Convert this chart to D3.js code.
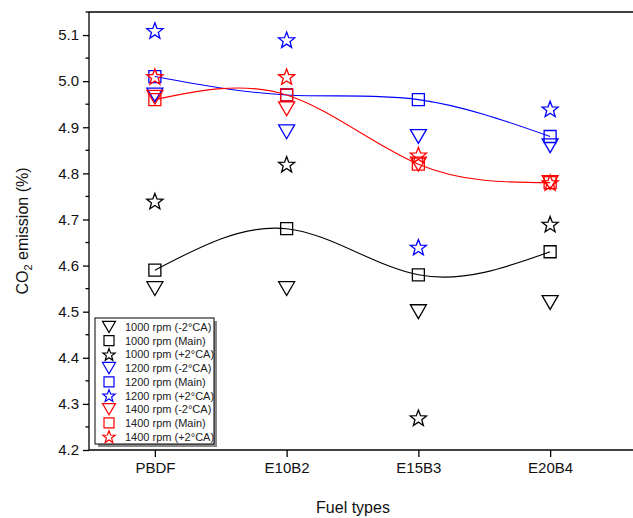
<!DOCTYPE html>
<html>
<head>
<meta charset="utf-8">
<script src="https://cdn.jsdelivr.net/npm/d3@7"></script>
<style>
body { margin: 0; background: #fff; }
text { font-family: Arial, "Liberation Sans", sans-serif; }
</style>
</head>
<body>
<div id="chart"></div>
<script>
var fuels = ['PBDF', 'E10B2', 'E15B3', 'E20B4'];
var yTicks = [4.2, 4.3, 4.4, 4.5, 4.6, 4.7, 4.8, 4.9, 5.0, 5.1];

// one array per series, same order as fuels
var rpm1000_m2 = [4.55, 4.55, 4.50, 4.52];
var rpm1000_main = [4.59, 4.68, 4.58, 4.63];
var rpm1000_p2 = [4.74, 4.82, 4.27, 4.69];
var rpm1200_m2 = [4.97, 4.89, 4.88, 4.86];
var rpm1200_main = [5.01, 4.97, 4.96, 4.88];
var rpm1200_p2 = [5.11, 5.09, 4.64, 4.94];
var rpm1400_m2 = [4.965, 4.94, 4.82, 4.78];
var rpm1400_main = [4.96, 4.97, 4.82, 4.78];
var rpm1400_p2 = [5.01, 5.01, 4.84, 4.78];

var series = [
	{name: '1000 rpm (-2°CA)', values: rpm1000_m2, color: '#000000', shape: 'tri'},
	{name: '1000 rpm (Main)', values: rpm1000_main, color: '#000000', shape: 'sq', curve: true},
	{name: '1000 rpm (+2°CA)', values: rpm1000_p2, color: '#000000', shape: 'star'},
	{name: '1200 rpm (-2°CA)', values: rpm1200_m2, color: '#0000ff', shape: 'tri'},
	{name: '1200 rpm (Main)', values: rpm1200_main, color: '#0000ff', shape: 'sq', curve: true},
	{name: '1200 rpm (+2°CA)', values: rpm1200_p2, color: '#0000ff', shape: 'star'},
	{name: '1400 rpm (-2°CA)', values: rpm1400_m2, color: '#ff0000', shape: 'tri'},
	{name: '1400 rpm (Main)', values: rpm1400_main, color: '#ff0000', shape: 'sq', curve: true},
	{name: '1400 rpm (+2°CA)', values: rpm1400_p2, color: '#ff0000', shape: 'star'}
];

var svgWidth = 633;
var svgHeight = 518;
var plot = {left: 89, top: 12, bottom: 450};

var svg = d3.select('#chart').append('svg')
	.attr('width', svgWidth)
	.attr('height', svgHeight);

var xScale = d3.scaleLinear()
	.domain([-0.5, 3.5])
	.range([plot.left, 616]);
var yScale = d3.scaleLinear()
	.domain([4.2, 5.15])
	.range([plot.bottom, plot.top]);

// marker shapes, r = half width
function shapePath(shape, r) {
	if (shape == 'sq') {
		return 'M' + (-r) + ',' + (-r) + 'H' + r + 'V' + r + 'H' + (-r) + 'Z';
	}
	if (shape == 'tri') {
		var h = r * Math.sqrt(3);
		return 'M' + (-r) + ',' + (-h / 2) + 'H' + r + 'L0,' + (h / 2) + 'Z';
	}
	var pts = [];
	for (var i = 0; i < 10; i++) {
		var rad = i % 2 == 0 ? r : r * 0.42;
		var a = -Math.PI / 2 + i * Math.PI / 5;
		pts.push([rad * Math.cos(a), rad * Math.sin(a) + r * 0.1]);
	}
	return 'M' + pts.join('L') + 'Z';
}
var markerR = {tri: 8, sq: 6, star: 8.5};

// frame lines (right side is cut off by the picture)
svg.append('line')
	.attr('x1', plot.left).attr('x2', svgWidth + 5)
	.attr('y1', plot.top).attr('y2', plot.top)
	.attr('stroke', '#000').attr('stroke-width', 1.5);

// axes
var bottomAxis = d3.axisBottom(xScale)
	.tickValues([0, 1, 2, 3])
	.tickFormat(function(d) { return fuels[d]; })
	.tickSize(7)
	.tickPadding(5);
var xAxis = svg.append('g')
	.attr('transform', 'translate(0,' + plot.bottom + ')')
	.call(bottomAxis);
xAxis.select('.domain')
	.attr('d', 'M' + plot.left + ',0H' + (svgWidth + 5));

var leftAxis = d3.axisLeft(yScale)
	.tickValues(yTicks)
	.tickFormat(d3.format('.1f'))
	.tickSize(6)
	.tickPadding(4);
var yAxis = svg.append('g')
	.attr('transform', 'translate(' + plot.left + ',0)')
	.call(leftAxis);

var minorTicks = yTicks.map(function(d) { return d + 0.05; }).filter(function(d) { return d < 5.15; });
yAxis.selectAll('.minor')
	.data(minorTicks)
	.enter()
	.append('line')
	.attr('class', 'minor')
	.attr('x1', 0).attr('x2', -3.5)
	.attr('y1', function(d) { return yScale(d); })
	.attr('y2', function(d) { return yScale(d); })
	.attr('stroke', '#000');

[xAxis, yAxis].forEach(function(ax) {
	ax.selectAll('path, line').attr('stroke', '#000').attr('stroke-width', 1.3);
	ax.selectAll('text')
		.attr('font-family', 'Arial, "Liberation Sans", sans-serif')
		.attr('font-size', '15px')
		.attr('fill', '#111');
});
yAxis.select('.domain').attr('d', 'M0,' + plot.bottom + 'V' + plot.top);

// axis titles
svg.append('text')
	.attr('x', 353)
	.attr('y', 513)
	.attr('text-anchor', 'middle')
	.attr('font-size', '16px')
	.attr('fill', '#111')
	.text('Fuel types');

var yLabel = svg.append('text')
	.attr('transform', 'translate(28,231) rotate(-90)')
	.attr('text-anchor', 'middle')
	.attr('font-size', '16px')
	.attr('fill', '#111');
yLabel.append('tspan').text('CO');
yLabel.append('tspan').attr('font-size', '11px').attr('dy', '4').text('2');
yLabel.append('tspan').attr('dy', '-4').text(' emission (%)');

// smooth curves through the Main series
var line = d3.line()
	.x(function(d, i) { return xScale(i); })
	.y(function(d) { return yScale(d); })
	.curve(d3.curveNatural);

svg.append('g').selectAll('path')
	.data(series.filter(function(s) { return s.curve; }))
	.enter()
	.append('path')
	.attr('d', function(s) { return line(s.values); })
	.attr('fill', 'none')
	.attr('stroke', function(s) { return s.color; })
	.attr('stroke-width', 1.1);

// markers
var groups = svg.append('g').selectAll('g')
	.data(series)
	.enter()
	.append('g');
groups.selectAll('path')
	.data(function(s) { return s.values.map(function(v, i) { return {v: v, i: i, s: s}; }); })
	.enter()
	.append('path')
	.attr('transform', function(d) { return 'translate(' + xScale(d.i) + ',' + yScale(d.v) + ')'; })
	.attr('d', function(d) { return shapePath(d.s.shape, markerR[d.s.shape]); })
	.attr('fill', 'none')
	.attr('stroke', function(d) { return d.s.color; })
	.attr('stroke-width', 1.3);

// legend
var legend = {x: 95, y: 318, w: 119, h: 126, row: 13.7};
svg.append('rect')
	.attr('x', legend.x + 3).attr('y', legend.y + 3)
	.attr('width', legend.w).attr('height', legend.h)
	.attr('fill', '#888');
svg.append('rect')
	.attr('x', legend.x).attr('y', legend.y)
	.attr('width', legend.w).attr('height', legend.h)
	.attr('fill', '#fff')
	.attr('stroke', '#000')
	.attr('stroke-width', 1);

var items = svg.append('g').selectAll('g')
	.data(series)
	.enter()
	.append('g')
	.attr('transform', function(d, i) { return 'translate(' + legend.x + ',' + (legend.y + 9 + i * legend.row) + ')'; });
items.append('path')
	.attr('transform', 'translate(14,0)')
	.attr('d', function(s) { return shapePath(s.shape, s.shape == 'sq' ? 5 : 6.5); })
	.attr('fill', 'none')
	.attr('stroke', function(s) { return s.color; })
	.attr('stroke-width', 1.2);
items.append('text')
	.attr('x', 30)
	.attr('y', 4)
	.attr('font-size', '11px')
	.attr('fill', '#222')
	.text(function(s) { return s.name; });
</script>
</body>
</html>
